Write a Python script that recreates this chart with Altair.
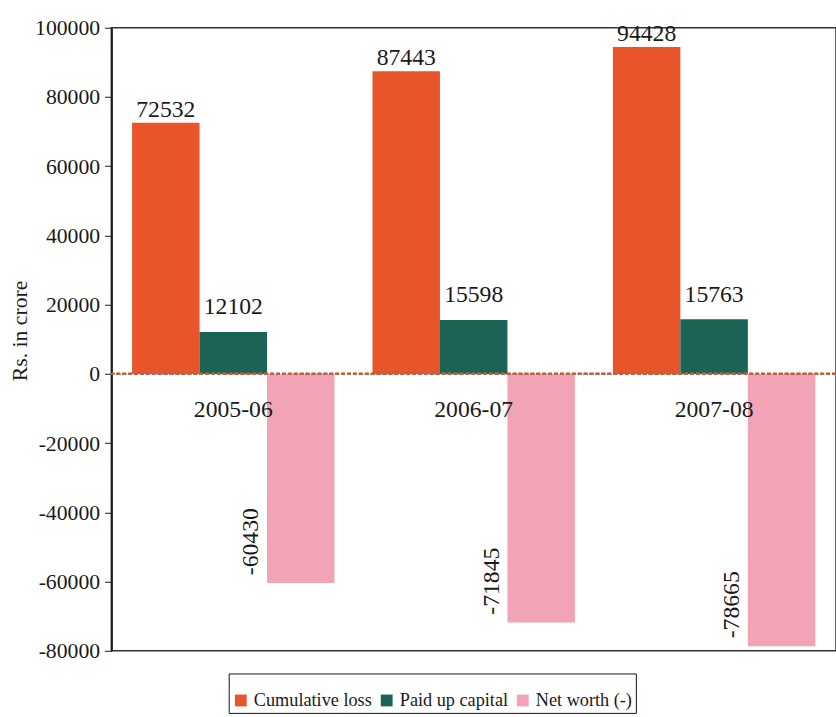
import altair as alt
import pandas as pd

years = ["2005-06", "2006-07", "2007-08"]
series = ["Cumulative loss", "Paid up capital", "Net worth (-)"]
cumulative_loss = [72532, 87443, 94428]
paid_up_capital = [12102, 15598, 15763]
net_worth = [-60430, -71845, -78665]
colors = ["#E8552A", "#1B6455", "#F3A3B6"]
y_ticks = list(range(-80000, 100001, 20000))

rows = []
for i, yr in enumerate(years):
    for s, vals in zip(series, [cumulative_loss, paid_up_capital, net_worth]):
        rows.append({"year": yr, "series": s, "value": vals[i]})
df = pd.DataFrame(rows)
cat_df = pd.DataFrame({"year": years})

FONT = "Liberation Serif"
TXT = "#1a1a1a"

x_enc = alt.X("year:N", sort=years, axis=None,
              scale=alt.Scale(domain=years, paddingInner=0.158, paddingOuter=0.086))
xo = alt.XOffset("series:N", sort=series,
                 scale=alt.Scale(domain=series, paddingInner=0, paddingOuter=0))
y_scale = alt.Scale(domain=[-80000, 100000], nice=False)

bars = alt.Chart(df).mark_bar().encode(
    x=x_enc,
    xOffset=xo,
    y=alt.Y("value:Q", scale=y_scale,
            axis=alt.Axis(values=y_ticks, title="Rs. in crore", grid=False,
                          labelExpr="datum.value < 0 ? '-' + abs(datum.value) : '' + datum.value",
                          labelFont=FONT, labelFontSize=22, labelColor=TXT,
                          tickColor=TXT, tickSize=7, labelPadding=5,
                          domainColor=TXT, domainWidth=2,
                          titleFont=FONT, titleFontSize=22, titleFontWeight="normal",
                          titleColor=TXT, titleX=-93, titleY=307, titleAngle=270,
                          titleAlign="center", titleBaseline="middle")),
    color=alt.Color("series:N", sort=series,
                    scale=alt.Scale(domain=series, range=colors),
                    legend=alt.Legend(title=" ", orient="none", legendX=119, legendY=655,
                                      direction="horizontal", symbolType="square",
                                      symbolSize=144, symbolStrokeWidth=0,
                                      labelFont=FONT, labelFontSize=18.5, labelColor=TXT,
                                      labelOffset=4, columnPadding=5,
                                      titleFontSize=10, titlePadding=5,
                                      strokeColor="#111", fillColor="white", padding=3)),
)

zero_rule = alt.Chart(cat_df).mark_rule(color="#B5654A", strokeWidth=2.5, strokeDash=[4, 2]).encode(
    y=alt.datum(0)
)

def lbl(name, **kw):
    return alt.Chart(df).transform_filter(alt.datum.series == name).transform_calculate(
        label="datum.value < 0 ? '-' + abs(datum.value) : '' + datum.value"
    ).mark_text(
        font=FONT, fontSize=24, color=TXT, **kw
    ).encode(
        x=x_enc, xOffset=xo,
        y=alt.Y("value:Q", scale=y_scale),
        text="label:N",
    )

orange_lbl = lbl("Cumulative loss", baseline="alphabetic", dy=-6)
green_lbl = lbl("Paid up capital", baseline="alphabetic", dy=-18)
neg_lbl = lbl("Net worth (-)", angle=270, align="left", baseline="middle", dx=8, dy=-50)

cat_lbl = alt.Chart(cat_df).mark_text(
    font=FONT, fontSize=24, color=TXT, baseline="middle", dy=37
).encode(x=x_enc, y=alt.datum(0), text="year:N")

chart = alt.layer(bars, zero_rule, orange_lbl, green_lbl, neg_lbl, cat_lbl).properties(
    width=735, height=632,
    padding={"left": 113, "top": 23, "right": 0, "bottom": 62},
    autosize="none",
    background="white",
).configure_view(stroke="#333", strokeWidth=1.5)

chart.save("out.html", embed_options={"renderer": "svg", "actions": False})
